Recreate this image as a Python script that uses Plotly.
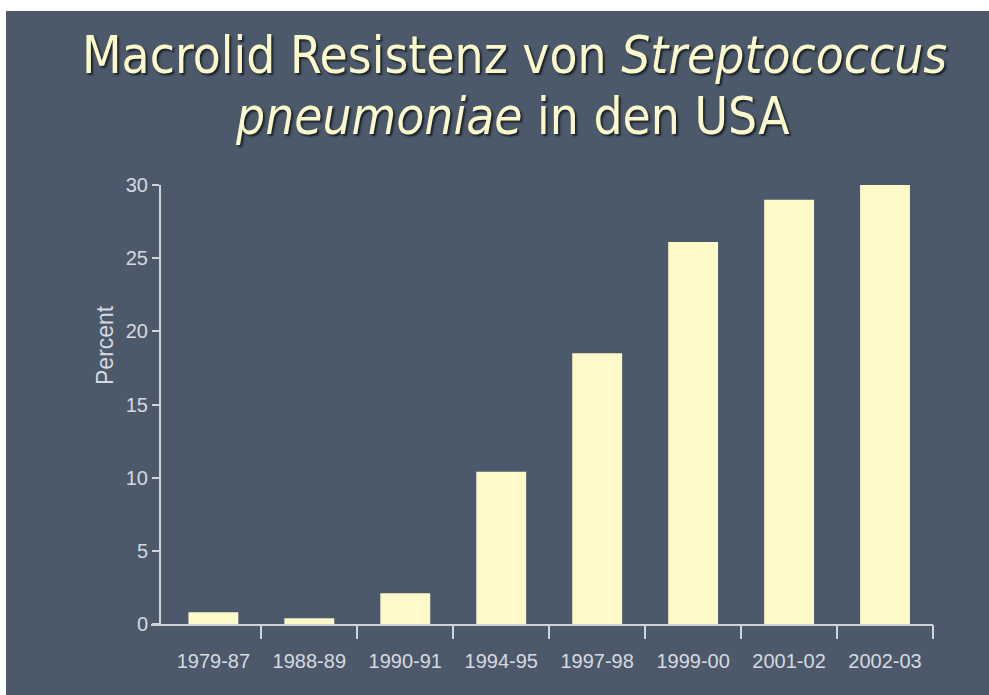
import plotly.graph_objects as go

# data
periods = ["1979-87", "1988-89", "1990-91", "1994-95", "1997-98", "1999-00", "2001-02", "2002-03"]
percent = [0.8, 0.4, 2.1, 10.4, 18.5, 26.1, 29.0, 30.0]
y_ticks = [0, 5, 10, 15, 20, 25, 30]

W, H = 989, 695
L, R, T, B = 151, 933, 185, 624   # plot area in pixels
x_range = [-0.65, 7.5]

def px_x(x):
    return (x - L) / (R - L)

def px_y(y):
    return (B - y) / (B - T)

slate = "#4c596a"
cream = "#fdf9c8"
axis_col = "#cfd3da"
tick_font = dict(family="Liberation Sans, Arial", size=20, color="#d6dae0")
title_font = dict(family="DejaVu Sans Condensed, DejaVu Sans", size=51, color="#fbf8cc",
                  shadow="2px 2px 2px #1b222c")

fig = go.Figure()
fig.add_trace(go.Bar(x=periods, y=percent, marker_color=cream, marker_line_width=0))
# empty trace so the tick-mark axis (x2) gets drawn
fig.add_trace(go.Scatter(x=[], y=[], xaxis="x2", showlegend=False, hoverinfo="skip"))

fig.update_layout(
    width=W, height=H,
    margin=dict(l=L, r=W - R, t=T, b=H - B, autoexpand=False),
    paper_bgcolor="white",
    plot_bgcolor="rgba(0,0,0,0)",
    bargap=0.48,
    showlegend=False,
    # slide background with the white strip at top/left
    shapes=[dict(type="rect", xref="paper", yref="paper", layer="below",
                 x0=px_x(6), x1=px_x(W + 5), y0=px_y(H + 5), y1=px_y(11),
                 fillcolor=slate, line_width=0)],
    annotations=[
        dict(text="Macrolid Resistenz von <i>Streptococcus</i>", x=px_x(514), y=px_y(56),
             xref="paper", yref="paper", showarrow=False, font=title_font,
             xanchor="center", yanchor="middle"),
        dict(text="<i>pneumoniae</i> in den USA", x=px_x(512), y=px_y(116),
             xref="paper", yref="paper", showarrow=False, font=title_font,
             xanchor="center", yanchor="middle"),
        dict(text="Percent", textangle=-90, x=px_x(105), y=px_y(345),
             xref="paper", yref="paper", showarrow=False,
             font=dict(family="Liberation Sans, Arial", size=23, color="#d6dae0"),
             xanchor="center", yanchor="middle"),
    ],
    xaxis=dict(
        type="category", range=x_range, automargin=False,
        showline=True, linecolor=axis_col, linewidth=2, ticks="",
        tickfont=tick_font, tickangle=0, ticklabelstandoff=18,
        showgrid=False, zeroline=False,
    ),
    # second x axis only carries the tick marks between the categories
    xaxis2=dict(
        overlaying="x", side="bottom", anchor="y", range=x_range, automargin=False,
        tickvals=[i + 0.5 for i in range(len(periods))],
        ticks="outside", ticklen=14, tickwidth=1.5, tickcolor=axis_col,
        showticklabels=False, showline=False, showgrid=False, zeroline=False,
    ),
    yaxis=dict(
        range=[0, 30], tickvals=y_ticks, anchor="free", position=px_x(160), automargin=False,
        showline=True, linecolor=axis_col, linewidth=2,
        ticks="outside", ticklen=7, tickwidth=1.5, tickcolor=axis_col,
        tickfont=tick_font, showgrid=False, zeroline=False,
    ),
)

# the page body has a default 8px margin; drop it so the figure sits at 0,0
fig.write_html("out.html", config={"displayModeBar": False},
               post_script="document.body.style.margin='0';")
